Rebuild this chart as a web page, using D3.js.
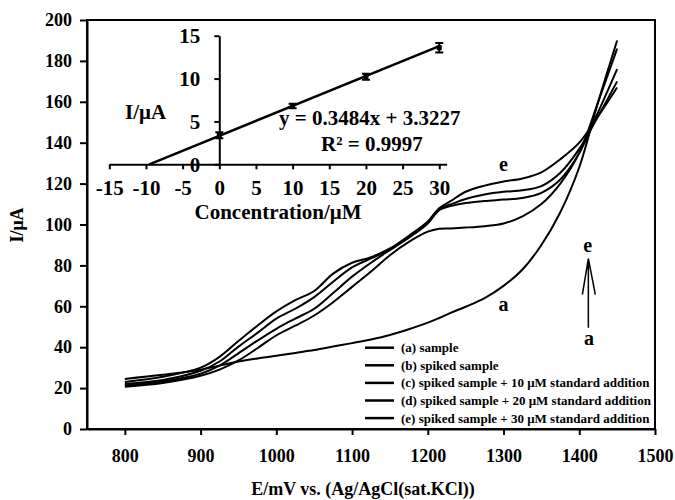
<!DOCTYPE html>
<html>
<head>
<meta charset=utf-8>
<title>Standard addition voltammograms</title>
<style>
body{margin:0; background:#fff;}
svg text{font-family:"Liberation Serif","Times New Roman",serif; font-weight:bold; fill:#000;}
.curve{fill:none; stroke:#000; stroke-width:2;}
.axis path, .axis line{stroke:#000; stroke-width:2;}
</style>
</head>
<body>
<svg id=chart width=675 height=500></svg>
<script src="https://cdn.jsdelivr.net/npm/d3@7/dist/d3.min.js"></script>
<script>
//potential grid (mV) shared by all voltammograms
var potential = [800, 850, 900, 925, 950, 975, 1000, 1025, 1050, 1075, 1100, 1125, 1150,
                 1175, 1200, 1215, 1230, 1250, 1275, 1300, 1325, 1350, 1375, 1400, 1425, 1450];

//current (uA)
var curveA = [24.5, 26.5, 29, 31, 33, 34.5, 35.8, 37.2, 38.6, 40.3, 42, 43.8, 46,
              48.8, 52, 54.3, 56.8, 59.8, 64, 70, 78, 90, 106, 128, 160, 190];
var curveB = [20.7, 22.5, 26, 29, 33.5, 39.5, 45.8, 50.5, 55.5, 62, 69.5, 77, 85,
              91.5, 96.5, 97.9, 98.1, 98.5, 99.2, 100.5, 104, 110, 120, 135, 160, 186];
var curveC = [21.3, 23.2, 27, 31, 37, 43.2, 49, 54, 58.8, 66.5, 74.5, 81.3, 87.5,
              93.5, 100.5, 107, 109, 110.5, 111.5, 112.2, 113, 115.5, 122, 135, 155, 176];
var curveD = [22, 24, 28.5, 33, 40.3, 47, 54, 58.8, 64.5, 72, 79, 83.4, 87.8,
              94, 101, 107.5, 109.8, 112.5, 114.7, 116, 116.8, 118.8, 125.3, 137, 153, 170];
var curveE = [23, 25.5, 30, 35.3, 43, 50.5, 57.5, 63, 67.5, 76, 81.3, 84, 88.3,
              94.5, 101.5, 108, 111.4, 116, 119, 121, 122.5, 125.5, 131.9, 140, 153, 167];

var legendLabels = ['(a) sample', '(b) spiked sample',
  '(c) spiked sample + 10 \u03bcM standard addition',
  '(d) spiked sample + 20 \u03bcM standard addition',
  '(e) spiked sample + 30 \u03bcM standard addition'];

var xTicks = [800, 900, 1000, 1100, 1200, 1300, 1400, 1500];
var yTicks = [0, 20, 40, 60, 80, 100, 120, 140, 160, 180, 200];

//inset: calibration plot
var concentration = [0, 10, 20, 30];
var insetCurrent = [3.4, 6.8, 10.2, 13.6];
var insetError = [0.35, 0.25, 0.35, 0.55];
var fitSlope = 0.3484, fitIntercept = 3.3227;
var insetXTicks = [-15, -10, -5, 0, 5, 10, 15, 20, 25, 30];
var insetYTicks = [0, 5, 10, 15];

//curve letters and arrow, in data units [E, I]
var curveLetters = [{t: 'e', e: 1300, i: 126}, {t: 'a', e: 1300, i: 57.5},
                    {t: 'e', e: 1411, i: 86.4}, {t: 'a', e: 1413, i: 41.2}];
var arrowE = 1412, arrowFrom = 49.5, arrowTo = 83.3, arrowWing = 65.7;

//layout
var margin = {top: 20, left: 87};
var width = 568, height = 409;
var plain = d => String(d);  //hyphen minus, no thousands comma

var svg = d3.select('#chart');
var chart = svg.append('g')
  .attr('transform', 'translate(' + margin.left + ',' + margin.top + ')');

var x = d3.scaleLinear().domain([750, 1500]).range([0, width]);
var y = d3.scaleLinear().domain([0, 200]).range([height, 0]);

//plot area frame
chart.append('rect')
    .attr('width', width).attr('height', height)
    .attr('fill', 'none').attr('stroke', '#000').attr('stroke-width', 2);

var gx = chart.append('g')
    .attr('class', 'axis')
    .attr('transform', 'translate(0,' + height + ')')
    .call(d3.axisBottom(x).tickValues(xTicks).tickFormat(plain)
            .tickSize(6).tickSizeOuter(0).tickPadding(14));
gx.attr('font-family', null).attr('font-size', 18);

var gy = chart.append('g')
    .attr('class', 'axis')
    .call(d3.axisLeft(y).tickValues(yTicks).tickFormat(plain)
            .tickSize(7).tickSizeOuter(0).tickPadding(8));
gy.attr('font-family', null).attr('font-size', 18);

//axis titles
svg.append('text')
    .attr('text-anchor', 'middle')
    .attr('x', 363).attr('y', 495)
    .attr('font-size', 18)
    .text('E/mV vs. (Ag/AgCl(sat.KCl))');

svg.append('text')
    .attr('text-anchor', 'middle')
    .attr('transform', 'rotate(-90)')
    .attr('x', -225).attr('y', 23)
    .attr('font-size', 18)
    .text('I/\u03bcA');

//voltammograms
var line = d3.line()
    .x((d, i) => x(potential[i]))
    .y(d => y(d))
    .curve(d3.curveCatmullRom.alpha(0.5));

[curveA, curveB, curveC, curveD, curveE].forEach(function(c){
  chart.append('path')
      .datum(c)
      .attr('class', 'curve')
      .attr('d', line);
});

//letters and arrow
chart.selectAll('.letter')
    .data(curveLetters)
  .enter().append('text')
    .attr('class', 'letter')
    .attr('text-anchor', 'middle')
    .attr('font-size', 20)
    .attr('x', d => x(d.e))
    .attr('y', d => y(d.i))
    .text(d => d.t);

chart.append('path')
    .attr('fill', 'none').attr('stroke', '#000').attr('stroke-width', 1.5)
    .attr('d', 'M' + x(arrowE) + ',' + y(arrowFrom) + 'V' + y(arrowTo)
      + 'M' + (x(arrowE) - 6) + ',' + y(arrowWing) + 'L' + x(arrowE) + ',' + y(arrowTo)
      + 'L' + (x(arrowE) + 7) + ',' + y(arrowWing));

//legend
var legend = svg.append('g').attr('transform', 'translate(365,347.7)');
legendLabels.forEach(function(t, i){
  legend.append('line')
      .attr('x1', 0).attr('x2', 29)
      .attr('y1', i * 17.6).attr('y2', i * 17.6)
      .attr('stroke', '#000').attr('stroke-width', 2.5);
  legend.append('text')
      .attr('x', 36).attr('y', i * 17.6)
      .attr('dy', '0.35em')
      .attr('font-size', 13)
      .text(t);
});

//inset calibration plot
var ix = d3.scaleLinear().domain([-15, 31]).range([109.3, 446.6]);
var iy = d3.scaleLinear().domain([0, 15]).range([164.3, 35.7]);
var inset = svg.append('g');

var igx = inset.append('g')
    .attr('class', 'axis')
    .attr('transform', 'translate(0,' + iy(0) + ')')
    .call(d3.axisBottom(ix).tickValues(insetXTicks).tickFormat(plain)
            .tickSize(5).tickSizeOuter(0).tickPadding(11));
igx.attr('font-family', null).attr('font-size', 21);
igx.select('path').attr('stroke-width', 2.5);

var igy = inset.append('g')
    .attr('class', 'axis')
    .attr('transform', 'translate(' + ix(0) + ',0)')
    .call(d3.axisLeft(iy).tickValues(insetYTicks).tickFormat(plain)
            .tickSize(5).tickSizeOuter(0).tickPadding(14));
igy.attr('font-family', null).attr('font-size', 21);
igy.select('path').attr('stroke-width', 2.5);

//trend line from x-intercept to last standard
var x0 = -fitIntercept / fitSlope;
inset.append('line')
    .attr('x1', ix(x0)).attr('y1', iy(0))
    .attr('x2', ix(30)).attr('y2', iy(fitSlope * 30 + fitIntercept))
    .attr('stroke', '#000').attr('stroke-width', 2.5);

//error bars
var bars = inset.selectAll('.err')
    .data(concentration)
  .enter().append('g')
    .attr('class', 'err');
bars.append('path')
    .attr('fill', 'none').attr('stroke', '#000').attr('stroke-width', 2)
    .attr('d', (d, i) => {
      var cx = ix(d), lo = iy(insetCurrent[i] - insetError[i]), hi = iy(insetCurrent[i] + insetError[i]);
      return 'M' + (cx - 4) + ',' + hi + 'H' + (cx + 4) + 'M' + cx + ',' + hi + 'V' + lo
        + 'M' + (cx - 4) + ',' + lo + 'H' + (cx + 4);
    });
bars.append('rect')
    .attr('x', d => ix(d) - 2.5)
    .attr('y', (d, i) => iy(insetCurrent[i]) - 2.5)
    .attr('width', 5).attr('height', 5);

inset.append('text')
    .attr('x', 125).attr('y', 119)
    .attr('font-size', 21)
    .text('I/\u03bcA');

inset.append('text')
    .attr('x', 279).attr('y', 125)
    .attr('font-size', 21)
    .text('y = ' + fitSlope + 'x + ' + fitIntercept);

inset.append('text')
    .attr('x', 321).attr('y', 151)
    .attr('font-size', 21)
    .text('R\u00b2 = 0.9997');

inset.append('text')
    .attr('text-anchor', 'middle')
    .attr('x', 278).attr('y', 218.5)
    .attr('font-size', 21)
    .text('Concentration/\u03bcM');
</script>
</body>
</html>
